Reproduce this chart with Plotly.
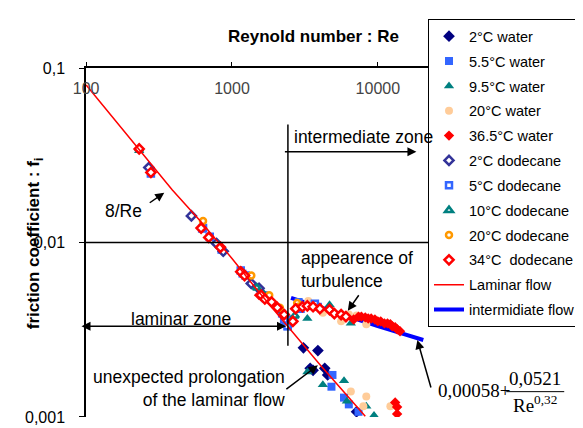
import plotly.graph_objects as go

# ---- data (Re, friction coefficient) ----
w2_re = [3090, 3882, 3437, 3597, 4325, 4528, 7145]
w2_f = [0.00249, 0.00240, 0.00190, 0.00185, 0.00190, 0.00174, 0.00107]

w55_re = [278, 622, 846, 1180, 1650, 2200, 2420, 2330, 2864, 3200, 3437, 3882,
          4887, 4808, 5864, 6324, 7372]
w55_f = [0.0252, 0.0120, 0.00908, 0.00663, 0.00499, 0.00391, 0.00331, 0.00344,
         0.00456, 0.00433, 0.00439, 0.00428, 0.00174, 0.00149, 0.00129, 0.00118, 0.00107]

w95_re = [231, 1650, 3287, 4667, 6530, 3287, 4198, 5864, 6137, 8335, 9418]
w95_f = [0.0336, 0.0051, 0.00367, 0.00439, 0.00344, 0.00181, 0.00153, 0.00161,
         0.00123, 0.00115, 0.00102]

w20_re = [3335, 4198, 5600, 6324, 7145, 8335, 6530, 8335, 7960, 12190]
w20_f = [0.00462, 0.00396, 0.00353, 0.00386, 0.00381, 0.00340, 0.00140, 0.00131,
         0.00115, 0.00115]

w365_re = [1532, 6826, 7372, 7711, 8201, 8590, 9000, 9550, 10000, 10470, 11100,
           11650, 12190, 12560, 13150, 13560, 14200, 13150, 13560, 13560]
w365_f = [0.00499, 0.00362, 0.00376, 0.00376, 0.00372, 0.00367, 0.00367, 0.00362,
          0.00353, 0.00353, 0.00344, 0.00344, 0.00340, 0.00331, 0.00327, 0.00318,
          0.00310, 0.00121, 0.00114, 0.00104]

d2_re = [269, 527, 784, 871, 1356, 1532]
d2_f = [0.0269, 0.0142, 0.00987, 0.00891, 0.00582, 0.00546]

d5_re = [278, 633, 704, 1148, 1240, 1700, 2279, 2400, 2614, 2950, 3700]
d5_f = [0.0249, 0.0121, 0.0108, 0.0069, 0.00646, 0.0048, 0.00362, 0.00331,
        0.00362, 0.00417, 0.00445]

d10_re = [231, 1480, 2150, 2700]
d10_f = [0.0344, 0.0055, 0.00412, 0.00380]

d20_re = [633, 1356, 1800, 2130, 2800, 2864]
d20_f = [0.0133, 0.00646, 0.00499, 0.00423, 0.00450, 0.00428]

d34_re = [231, 278, 614, 693, 833, 1148, 1219, 1581, 1679, 1869, 2048, 2279,
          2614, 2735, 3042, 3287, 3597, 4005, 4667, 5035, 5600, 6043]
d34_f = [0.0344, 0.0252, 0.0121, 0.0107, 0.00938, 0.00680, 0.00646, 0.00499,
         0.00474, 0.00456, 0.00423, 0.00386, 0.00353, 0.00417, 0.00428, 0.00433,
         0.00428, 0.00417, 0.00412, 0.00391, 0.00386, 0.00376]

lam_re = [100, 230, 390, 600, 1000, 1500, 2400, 4000, 8200]
lam_f = [0.080, 0.0345, 0.0200, 0.0134, 0.0081, 0.0053, 0.0033, 0.0020, 0.00101]

int_re = [2540, 3000, 4000, 5000, 7000, 10000, 14000, 20500]
int_f = [0.00482, 0.00460, 0.00425, 0.00399, 0.00365, 0.00332, 0.00304, 0.00276]

x_ticks = [100, 1000, 10000]
y_ticks = [0.001, 0.01, 0.1]
y_ticktext = ["0,001", "0,01", "0,1"]

# ---- plot area in pixels, helpers for layout positions ----
W, H = 583, 428
L, R, T, B = 78, 432, 60, 418
def px(x): return (x - L) / (R - L)
def py(y): return (B - y) / (B - T)

FONT = "Arial, Liberation Sans, sans-serif"

fig = go.Figure()

fig.add_trace(go.Scatter(x=int_re, y=int_f, mode="lines", name="intermidiate flow",
                         line=dict(color="#0000FF", width=4), legendrank=12))

def pts(name, xs, ys, sym, col, size=8, hollow=False, rank=1):
    if hollow:
        mk = dict(symbol=sym, size=size, color="white", line=dict(color=col, width=2.5))
    else:
        mk = dict(symbol=sym, size=size, color=col, line=dict(width=0))
    fig.add_trace(go.Scatter(x=xs, y=ys, mode="markers", name=name, marker=mk,
                             legendrank=rank))

pts("2°C water", w2_re, w2_f, "diamond", "#000080", 9, rank=1)
pts("5.5°C water", w55_re, w55_f, "square", "#3366FF", 8, rank=2)
pts("9.5°C water", w95_re, w95_f, "triangle-up", "#008080", 9, rank=3)
pts("20°C water", w20_re, w20_f, "circle", "#FFCC99", 8, rank=4)
pts("36.5°C water", w365_re, w365_f, "diamond", "#FF0000", 8, rank=5)
pts("2°C dodecane", d2_re, d2_f, "diamond", "#333399", 7, True, rank=6)
pts("5°C dodecane", d5_re, d5_f, "square", "#3366FF", 6, True, rank=7)
pts("10°C dodecane", d10_re, d10_f, "triangle-up", "#008080", 7, True, rank=8)
pts("20°C dodecane", d20_re, d20_f, "circle", "#FF9900", 6, True, rank=9)
pts("34°C  dodecane", d34_re, d34_f, "diamond", "#FF0000", 7, True, rank=10)

fig.add_trace(go.Scatter(x=lam_re, y=lam_f, mode="lines", name="Laminar flow",
                         line=dict(color="#FF0000", width=1.5), legendrank=11))

# every trace is its own legend group so the group gap sets the row spacing
for tr in fig.data:
    tr.legendgroup = tr.name

fig.update_layout(
    width=W, height=H,
    margin=dict(l=L, r=W - R, t=T, b=H - B),
    paper_bgcolor="white", plot_bgcolor="white",
    font=dict(family=FONT, size=16, color="black"),
    showlegend=True,
    legend=dict(x=1.0, y=py(10), xanchor="left", yanchor="top",
                bordercolor="black", borderwidth=1, bgcolor="white",
                font=dict(size=14.5), tracegroupgap=3, traceorder="grouped",
                maxheight=400, itemwidth=30),
)

fig.update_xaxes(type="log", side="top", range=[1.999, 4.344],
                 tickvals=x_ticks, ticktext=[str(v) for v in x_ticks],
                 ticks="outside", ticklen=4, tickcolor="black",
                 ticklabelposition="inside", ticklabelstandoff=15,
                 ticklabeloverflow="allow",
                 showline=True, linecolor="black", linewidth=1.5,
                 showgrid=False, zeroline=False)
fig.update_yaxes(type="log", range=[-3.0005, -0.9995],
                 tickvals=y_ticks, ticktext=y_ticktext,
                 ticks="outside", ticklen=5, tickcolor="black", ticklabelstandoff=11,
                 ticklabeloverflow="allow",
                 showline=True, linecolor="black", linewidth=1.5,
                 showgrid=False, zeroline=False)

# ---- lines ----
line = dict(color="black", width=1.5)
fig.add_shape(type="line", xref="paper", yref="paper", x0=0, x1=1, y0=py(239), y1=py(239), line=line)
fig.add_shape(type="line", xref="paper", yref="paper", x0=px(287), x1=px(287),
              y0=py(118), y1=py(345), line=line)
# fraction bar of the fit formula
fig.add_shape(type="line", xref="paper", yref="paper", x0=px(513), x1=px(573),
              y0=py(392), y1=py(392), line=dict(color="black", width=1))

# ---- text ----
def txt(s, x, y, size=17.5, xa="center", bold=False, fam=FONT, angle=0):
    fig.add_annotation(text=f"<b>{s}</b>" if bold else s, xref="paper", yref="paper",
                       x=px(x), y=py(y), xanchor=xa, yanchor="middle", showarrow=False,
                       textangle=angle, font=dict(family=fam, size=size, color="black"),
                       align="left" if xa == "left" else ("right" if xa == "right" else "center"))

txt("Reynold number : Re", 313, 28, 17, bold=True)
txt("friction coefficient : f<sub>i</sub>", 26, 240, 17, bold=True, angle=-90)
txt("intermediate zone", 291, 131, 17.5, xa="left")
txt("8/Re", 117, 207)
txt("laminar zone", 176, 317)
txt("appearence of<br>turbulence", 298, 267, xa="left")
txt("unexpected prolongation<br>of the laminar flow", 286, 389, xa="right")
SERIF = "Times New Roman, Liberation Serif, serif"
txt("0,00058+", 440, 391, 19, xa="left", fam=SERIF)
txt("0,0521", 543, 379, 19, fam=SERIF)
txt("Re<sup>0,32</sup>", 543, 405, 19, fam=SERIF)

# ---- arrows ----
def arrow(tx, ty, ax, ay, both=False):
    fig.add_annotation(text="", xref="paper", yref="paper", x=px(tx), y=py(ty),
                       ax=ax, ay=ay, showarrow=True, arrowhead=2, arrowsize=1.2,
                       arrowwidth=1.5, arrowcolor="black",
                       arrowside="end+start" if both else "end")

arrow(420, 146, -133, 0)
arrow(285, 325, -206, 0, both=True)
arrow(159, 188, -16, 11)
arrow(349, 309, 12, -17)
arrow(318, 365, -33, 25)
arrow(421, 339, 14, 49)

fig.write_html("out.html", config={"displayModeBar": False})
